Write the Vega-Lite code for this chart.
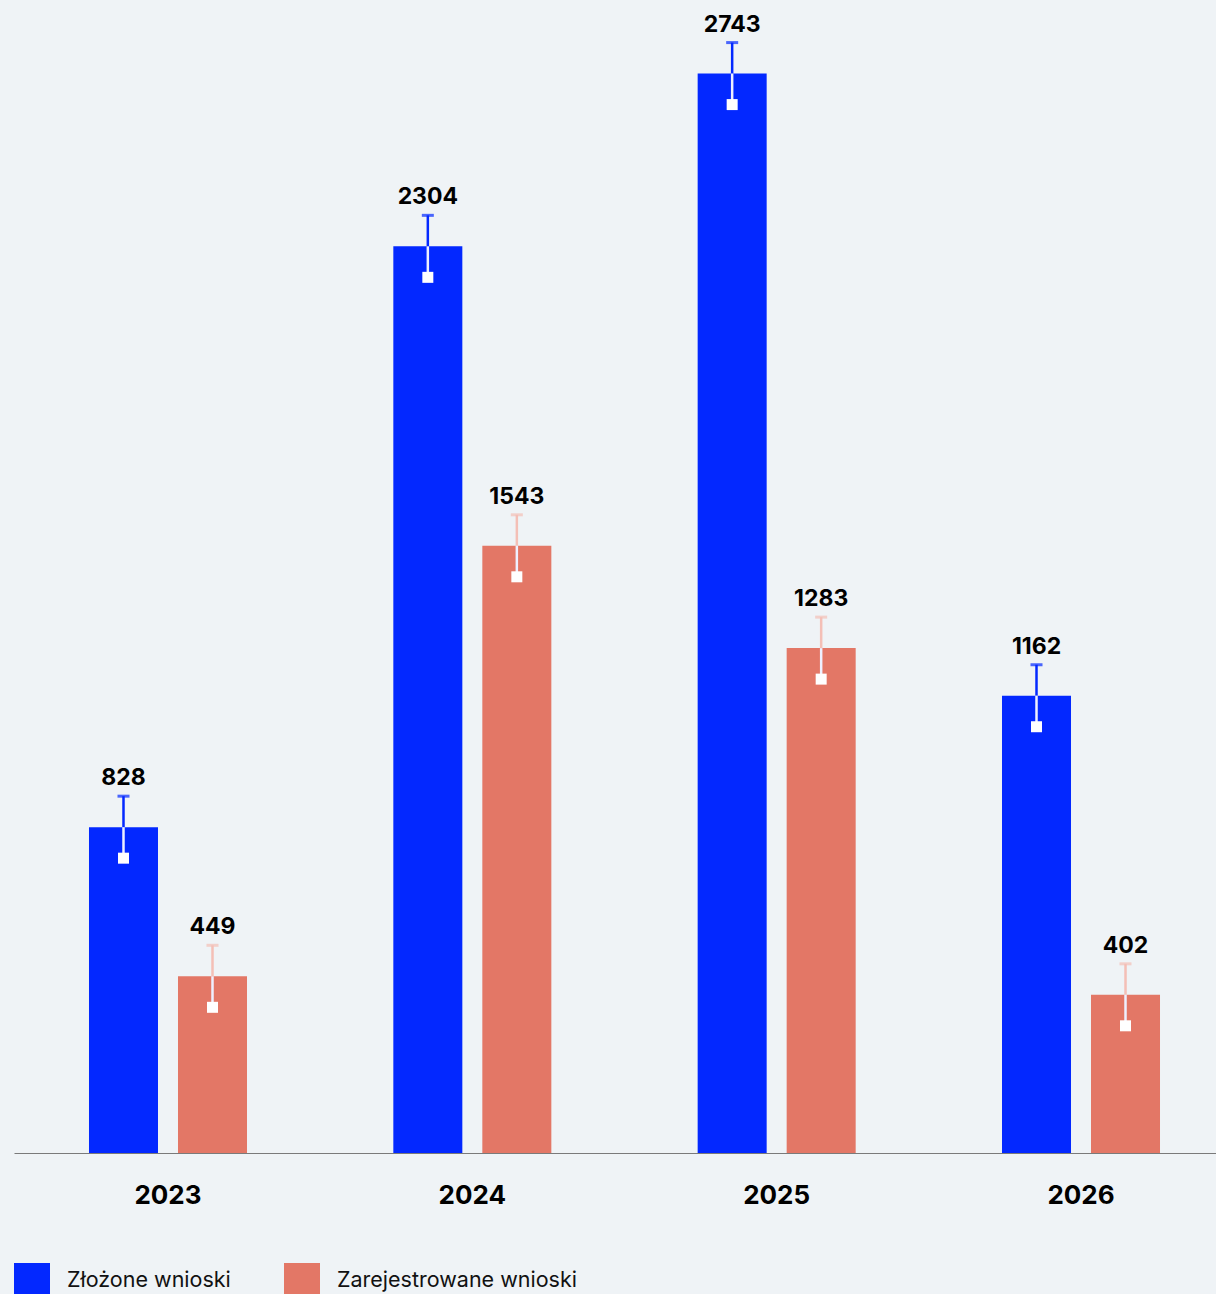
{
  "$schema": "https://vega.github.io/schema/vega-lite/v6.json",
  "autosize": "none",
  "width": 1202,
  "height": 1153,
  "padding": {"left": 14, "top": 0, "right": 0, "bottom": 141},
  "background": "#eff3f6",
  "config": {"view": {"stroke": null}, "font": "Inter"},
  "data": {"values": [
    {"year": "2023", "series": "Złożone wnioski", "value": 828},
    {"year": "2023", "series": "Zarejestrowane wnioski", "value": 449},
    {"year": "2024", "series": "Złożone wnioski", "value": 2304},
    {"year": "2024", "series": "Zarejestrowane wnioski", "value": 1543},
    {"year": "2025", "series": "Złożone wnioski", "value": 2743},
    {"year": "2025", "series": "Zarejestrowane wnioski", "value": 1283},
    {"year": "2026", "series": "Złożone wnioski", "value": 1162},
    {"year": "2026", "series": "Zarejestrowane wnioski", "value": 402}
  ]},
  "encoding": {
    "x": {"field": "year", "type": "nominal",
      "scale": {"range": [0, 1221], "paddingInner": 0.4808, "paddingOuter": 0.2464},
      "axis": {"title": null, "labelAngle": 0, "ticks": false, "domainColor": "#7a7a7a", "domainWidth": 1.2,
        "labelFontSize": 26, "labelFontWeight": "bold", "labelColor": "#000000", "labelPadding": 29, "labelFont": "Inter"}},
    "xOffset": {"field": "series", "type": "nominal",
      "scale": {"domain": ["Złożone wnioski", "Zarejestrowane wnioski"], "paddingInner": 0.2247, "paddingOuter": 0}},
    "y": {"field": "value", "type": "quantitative",
      "scale": {"domain": [0, 2930], "nice": false, "zero": true}, "axis": null}
  },
  "layer": [
    {
      "mark": {"type": "bar"},
      "encoding": {
        "color": {"field": "series", "type": "nominal",
          "scale": {"domain": ["Złożone wnioski", "Zarejestrowane wnioski"], "range": ["#0328ff", "#e37766"]},
          "legend": {"title": null, "orient": "none", "legendX": 0, "legendY": 1263, "direction": "horizontal",
            "symbolType": "square", "symbolSize": 1296, "symbolStrokeWidth": 0, "labelFontSize": 21.5, "labelFont": "Inter",
            "labelColor": "#111111", "labelOffset": 17, "columnPadding": 53, "symbolOpacity": 1, "labelLimit": 400}}
      }
    },
    {
      "mark": {"type": "rule", "yOffset": -31, "y2Offset": 0, "strokeWidth": 2.5},
      "encoding": {
        "y2": {"field": "value"},
        "stroke": {"field": "series", "type": "nominal",
          "scale": {"domain": ["Złożone wnioski", "Zarejestrowane wnioski"], "range": ["#0328ff", "#f4bfb6"]}, "legend": null}
      }
    },
    {
      "mark": {"type": "tick", "orient": "horizontal", "size": 12, "thickness": 3, "yOffset": -31},
      "encoding": {
        "color": {"field": "series", "type": "nominal",
          "scale": {"domain": ["Złożone wnioski", "Zarejestrowane wnioski"], "range": ["#0328ff", "#e37766"]}, "legend": null},
        "fill": {"field": "series", "type": "nominal",
          "scale": {"domain": ["Złożone wnioski", "Zarejestrowane wnioski"], "range": ["#0328ff", "#f4bfb6"]}, "legend": null}
      }
    },
    {
      "mark": {"type": "rule", "yOffset": 0, "y2Offset": 31, "strokeWidth": 2.5, "color": "#eef0ff"},
      "encoding": {"y2": {"field": "value"}}
    },
    {
      "mark": {"type": "point", "shape": "square", "size": 121, "filled": true, "color": "#ffffff", "opacity": 1, "yOffset": 31},
      "encoding": {}
    },
    {
      "mark": {"type": "text", "dy": -42, "baseline": "alphabetic", "fontSize": 23, "fontWeight": "bold", "color": "#000000", "font": "Inter"},
      "encoding": {"text": {"field": "value", "type": "quantitative"}}
    }
  ]
}
